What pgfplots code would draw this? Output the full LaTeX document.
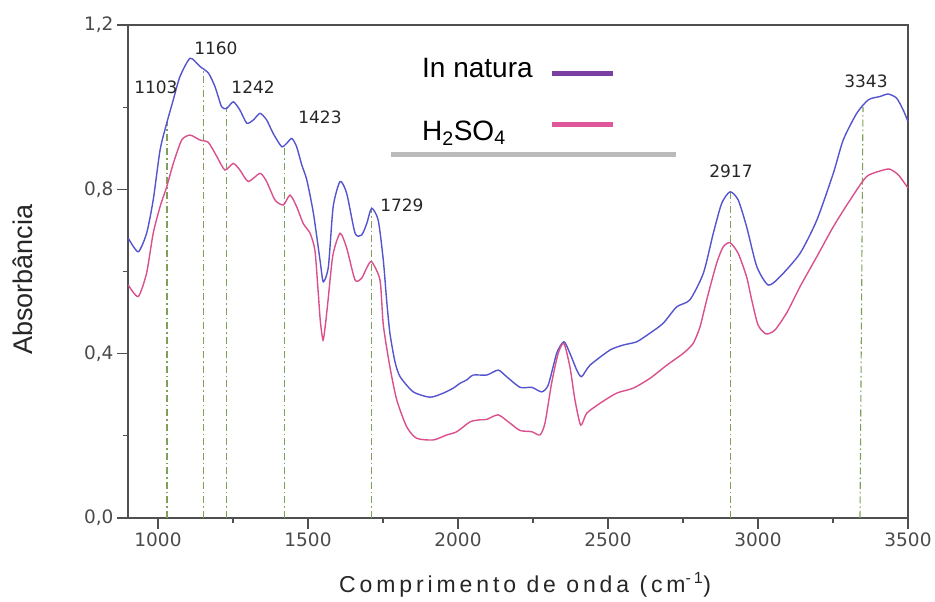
\documentclass[border=0pt]{standalone}
\usepackage{fontspec}
\setmainfont{Liberation Sans}
\newfontfamily\dejavu{DejaVu Sans}
\usepackage{pgfplots}
\pgfplotsset{compat=1.18}
\definecolor{bluec}{HTML}{5454CE}
\definecolor{pinkc}{HTML}{D9508C}
\definecolor{legpurple}{HTML}{7B3FA3}
\definecolor{legpink}{HTML}{E0589C}
\definecolor{vgreen}{HTML}{7FA05A}
\definecolor{axgray}{HTML}{505050}
\definecolor{tickgray}{HTML}{4A4A4A}
\definecolor{leggray}{HTML}{BBBBBB}
\begin{document}
\begin{tikzpicture}
\begin{axis}[
  scale only axis, width=780pt, height=493pt,
  xmin=900, xmax=3500, ymin=0, ymax=1.2,
  xtick={1000,1500,...,3500}, ytick={0,0.4,0.8,1.2},
  minor x tick num=1, minor y tick num=1,
  tick align=outside, tick pos=left,
  major tick length=11pt, minor tick length=5pt,
  every tick/.style={axgray, line width=1.2pt},
  axis line style={axgray, line width=1.5pt},
  /pgf/number format/assume math mode=true,
  tick label style={font=\dejavu\fontsize{18.5}{18.5}\selectfont, text=tickgray},
  xticklabel style={/pgf/number format/1000 sep={}},
  yticklabel style={/pgf/number format/.cd, fixed, fixed zerofill, precision=1, use comma},
  xlabel={Comprimento de onda (cm\textsuperscript{-1})},
  xlabel style={font=\addfontfeature{LetterSpace=17}\fontsize{23}{23}\selectfont, text=black!85, at={(axis description cs:0.509,-0.152)}, anchor=base},
  ylabel={Absorbância},
  ylabel style={font=\fontsize{27}{27}\selectfont, text=black!85, at={(axis description cs:-0.135,0.483)}, anchor=center},
  clip=false,
]
% reference lines
\addplot[vgreen, line width=1.1pt, dash pattern=on 7pt off 3pt on 1.5pt off 3pt] coordinates {(1030,0) (1030,0.965)};
\addplot[vgreen, line width=1.1pt, dash pattern=on 7pt off 3pt on 1.5pt off 3pt] coordinates {(1153,0) (1153,1.09)};
\addplot[vgreen, line width=1.1pt, dash pattern=on 7pt off 3pt on 1.5pt off 3pt] coordinates {(1229,0) (1229,1.0)};
\addplot[vgreen, line width=1.1pt, dash pattern=on 7pt off 3pt on 1.5pt off 3pt] coordinates {(1423,0) (1423,0.905)};
\addplot[vgreen, line width=1.1pt, dash pattern=on 7pt off 3pt on 1.5pt off 3pt] coordinates {(1712,0) (1712,0.755)};
\addplot[vgreen, line width=1.1pt, dash pattern=on 7pt off 3pt on 1.5pt off 3pt] coordinates {(2909,0) (2909,0.794)};
\addplot[vgreen, line width=1.1pt, dash pattern=on 7pt off 3pt on 1.5pt off 3pt] coordinates {(3340,0) (3350,1.0)};
% In natura
\addplot[bluec, line width=1.4pt, smooth, tension=0.4] coordinates {
(901,0.681)(934,0.648)(962,0.693)(984,0.774)(1007,0.896)(1029,0.961)(1051,1.018)(1073,1.074)(1107,1.119)(1140,1.099)(1168,1.083)(1190,1.050)(1212,1.001)(1229,0.997)(1251,1.013)(1273,0.993)(1296,0.961)(1318,0.969)(1340,0.985)(1362,0.969)(1384,0.936)(1412,0.904)(1429,0.912)(1446,0.924)(1462,0.904)(1479,0.86)(1496,0.823)(1518,0.742)(1540,0.628)(1551,0.575)(1568,0.612)(1584,0.758)(1607,0.819)(1629,0.790)(1657,0.693)(1679,0.689)(1696,0.717)(1712,0.754)(1734,0.725)(1751,0.628)(1762,0.531)(1773,0.450)(1790,0.38)(1807,0.344)(1851,0.307)(1907,0.294)(1951,0.304)(1984,0.316)(2007,0.328)(2029,0.336)(2051,0.348)(2096,0.348)(2134,0.360)(2162,0.344)(2207,0.318)(2246,0.318)(2279,0.307)(2301,0.324)(2329,0.401)(2353,0.429)(2373,0.401)(2396,0.360)(2412,0.344)(2440,0.372)(2507,0.409)(2551,0.421)(2596,0.429)(2640,0.450)(2684,0.474)(2729,0.514)(2773,0.531)(2818,0.596)(2851,0.693)(2879,0.766)(2907,0.794)(2934,0.774)(2962,0.709)(2996,0.612)(3034,0.567)(3073,0.587)(3140,0.644)(3196,0.725)(3251,0.839)(3284,0.920)(3329,0.985)(3368,1.018)(3407,1.026)(3434,1.032)(3462,1.022)(3484,0.993)(3500,0.965)
};
% H2SO4
\addplot[pinkc, line width=1.4pt, smooth, tension=0.4] coordinates {
(901,0.567)(934,0.539)(962,0.596)(984,0.693)(1007,0.758)(1029,0.806)(1051,0.863)(1079,0.920)(1107,0.932)(1140,0.920)(1168,0.914)(1196,0.880)(1223,0.847)(1251,0.863)(1273,0.847)(1301,0.819)(1340,0.839)(1362,0.819)(1390,0.774)(1418,0.762)(1440,0.786)(1462,0.758)(1484,0.717)(1507,0.693)(1523,0.652)(1533,0.56)(1541,0.48)(1550,0.433)(1558,0.47)(1567,0.531)(1583,0.640)(1607,0.693)(1629,0.657)(1657,0.579)(1679,0.584)(1696,0.609)(1712,0.624)(1740,0.579)(1751,0.47)(1773,0.368)(1796,0.287)(1829,0.222)(1862,0.194)(1918,0.190)(1962,0.202)(1996,0.210)(2040,0.234)(2073,0.239)(2096,0.240)(2134,0.251)(2173,0.231)(2207,0.213)(2246,0.210)(2273,0.202)(2290,0.231)(2312,0.328)(2334,0.401)(2353,0.425)(2373,0.368)(2390,0.287)(2409,0.226)(2429,0.255)(2473,0.279)(2529,0.304)(2584,0.316)(2640,0.340)(2696,0.372)(2751,0.401)(2784,0.425)(2807,0.466)(2829,0.531)(2862,0.620)(2884,0.660)(2907,0.670)(2934,0.644)(2962,0.587)(2979,0.531)(3000,0.470)(3027,0.448)(3057,0.458)(3097,0.501)(3140,0.563)(3196,0.636)(3251,0.709)(3307,0.774)(3362,0.831)(3418,0.847)(3440,0.849)(3468,0.835)(3500,0.803)
};
% peak labels
\begin{scope}[every node/.style={font=\dejavu\fontsize{17}{17}\selectfont, text=black!85, anchor=base}]
\node at (axis cs:993,1.034) {1103};
\node at (axis cs:1193,1.127) {1160};
\node at (axis cs:1317,1.034) {1242};
\node at (axis cs:1540,0.961) {1423};
\node at (axis cs:1813,0.745) {1729};
\node at (axis cs:2910,0.828) {2917};
\node at (axis cs:3360,1.049) {3343};
\end{scope}
% legend
\node[anchor=base west, font=\fontsize{28}{28}\selectfont, inner sep=0pt] at (axis cs:1880,1.073) {In natura};
\node[anchor=base west, font=\fontsize{28}{28}\selectfont, inner sep=0pt] at (axis cs:1880,0.920) {H\textsubscript{2}SO\textsubscript{4}};
\draw[legpurple, line width=5pt] (axis cs:2313,1.083) -- (axis cs:2517,1.083);
\draw[legpink, line width=5pt] (axis cs:2313,0.959) -- (axis cs:2517,0.959);
\draw[leggray, line width=5pt] (axis cs:1777,0.884) -- (axis cs:2727,0.884);
\end{axis}
\path ([shift={(-128pt,-79pt)}]current axis.south west) rectangle ([shift={(807pt,518pt)}]current axis.south west);
\end{tikzpicture}
\end{document}
